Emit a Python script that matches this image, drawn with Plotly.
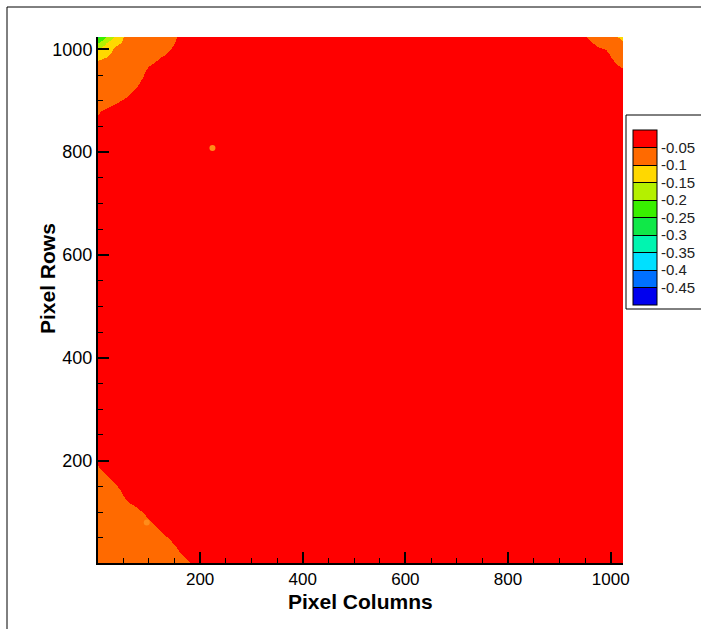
import plotly.graph_objects as go

# ---- data (relative intensity field, pixel grid) ----
col_nodes = [1, 16, 32, 50, 100, 160, 240, 512, 900, 960, 1000, 1012, 1024]
row_nodes = [1, 60, 120, 180, 260, 512, 780, 880, 960, 985, 1000, 1012, 1024]

field_rows = [
    [-0.085, -0.082, -0.078, -0.075, -0.064, -0.052, -0.044, -0.022, -0.020, -0.020, -0.020, -0.020, -0.021],  # 1
    [-0.073, -0.070, -0.067, -0.063, -0.053, -0.046, -0.039, -0.021, -0.020, -0.020, -0.020, -0.020, -0.020],  # 60
    [-0.061, -0.058, -0.055, -0.051, -0.046, -0.041, -0.034, -0.020, -0.020, -0.020, -0.020, -0.020, -0.020],  # 120
    [-0.051, -0.049, -0.047, -0.046, -0.041, -0.036, -0.029, -0.020, -0.020, -0.020, -0.020, -0.020, -0.020],  # 180
    [-0.043, -0.042, -0.041, -0.039, -0.035, -0.029, -0.022, -0.020, -0.020, -0.020, -0.020, -0.020, -0.020],  # 260
    [-0.025, -0.024, -0.023, -0.022, -0.021, -0.020, -0.020, -0.020, -0.020, -0.020, -0.020, -0.020, -0.021],  # 512
    [-0.035, -0.033, -0.030, -0.028, -0.025, -0.022, -0.020, -0.020, -0.020, -0.020, -0.020, -0.020, -0.020],  # 780
    [-0.051, -0.048, -0.045, -0.042, -0.035, -0.028, -0.023, -0.020, -0.025, -0.027, -0.029, -0.030, -0.030],  # 880
    [-0.085, -0.080, -0.075, -0.070, -0.047, -0.036, -0.028, -0.020, -0.028, -0.036, -0.043, -0.046, -0.048],  # 960
    [-0.105, -0.100, -0.090, -0.080, -0.056, -0.040, -0.030, -0.020, -0.030, -0.040, -0.050, -0.055, -0.062],  # 985
    [-0.150, -0.120, -0.095, -0.085, -0.068, -0.042, -0.032, -0.021, -0.032, -0.045, -0.052, -0.062, -0.074],  # 1000
    [-0.200, -0.150, -0.110, -0.095, -0.072, -0.045, -0.033, -0.022, -0.034, -0.048, -0.062, -0.078, -0.095],  # 1012
    [-0.260, -0.200, -0.145, -0.100, -0.075, -0.047, -0.035, -0.022, -0.035, -0.052, -0.075, -0.098, -0.112],  # 1024
]

# small dust spots seen in the image
spot_cols = [224, 96]
spot_rows = [808, 80]

# contour levels / legend
level_values = [-0.05, -0.1, -0.15, -0.2, -0.25, -0.3, -0.35, -0.4, -0.45]
level_labels = ["-0.05", "-0.1", "-0.15", "-0.2", "-0.25", "-0.3", "-0.35", "-0.4", "-0.45"]
band_colors = [  # from lowest (-0.5..-0.45) to highest (-0.05..0)
    "#0000EE", "#0070FF", "#00E0FF", "#00F5B0", "#10E848",
    "#38F000", "#B4F000", "#FFD800", "#FF6A00", "#FF0000",
]
z_min, z_max = -0.5, 0.0

x_ticks = [200, 400, 600, 800, 1000]
y_ticks = [200, 400, 600, 800, 1000]

# ---- build stepped colorscale ----
n = len(band_colors)
colorscale = []
for i, c in enumerate(band_colors):
    colorscale.append([i / n, c])
    colorscale.append([(i + 1) / n, c])

W, H = 701, 629
ML, MR, MT, MB = 98, 78, 37, 66
PW, PH = W - ML - MR, H - MT - MB
FONT = "Liberation Sans, Arial, sans-serif"


def px_x(p):
    return (p - ML) / PW


def px_y(p):
    return (H - MB - p) / PH


fig = go.Figure()
fig.add_trace(go.Heatmap(
    x=col_nodes, y=row_nodes, z=field_rows,
    zmin=z_min, zmax=z_max, zsmooth="best",
    colorscale=colorscale,
    hoverinfo="skip",
    colorbar=dict(
        x=px_x(626), xanchor="left", xpad=7,
        y=px_y(217.5), yanchor="middle", ypad=0,
        len=175, lenmode="pixels", thickness=24, thicknessmode="pixels",
        tickvals=level_values, ticktext=level_labels,
        ticks="inside", ticklen=24, tickwidth=1, tickcolor="black",
        outlinewidth=1, outlinecolor="black",
        borderwidth=0, bgcolor="rgba(0,0,0,0)",
        tickfont=dict(family=FONT, size=15, color="#222222"),
    ),
))
fig.add_trace(go.Scatter(
    x=spot_cols, y=spot_rows, mode="markers",
    marker=dict(size=6, color="#FF8C1A", line=dict(width=0)),
    showlegend=False, hoverinfo="skip",
))

axis_common = dict(
    showline=True, linecolor="black", linewidth=2, mirror=False,
    ticks="inside", ticklen=11, tickwidth=2, tickcolor="black",
    minor=dict(ticks="inside", ticklen=5, tickwidth=1, tickcolor="black", dtick=50, tick0=0, showgrid=False),
    showgrid=False, zeroline=False,
)

fig.update_layout(
    width=W, height=H,
    margin=dict(l=ML, r=MR, t=MT, b=MB, autoexpand=False),
    paper_bgcolor="white", plot_bgcolor="white",
    showlegend=False,
    xaxis=dict(range=[1, 1024], tickvals=x_ticks,
               tickfont=dict(family=FONT, size=17, color="black"), **axis_common),
    yaxis=dict(range=[1, 1024], tickvals=y_ticks,
               tickfont=dict(family=FONT, size=18, color="black"), **axis_common),
    annotations=[
        dict(text="<b>Pixel Columns</b>", xref="paper", yref="paper",
             x=0.5, y=px_y(601), xanchor="center", yanchor="middle", showarrow=False,
             font=dict(family=FONT, size=21, color="black")),
        dict(text="<b>Pixel Rows</b>", xref="paper", yref="paper", textangle=-90,
             x=px_x(47), y=px_y(279), xanchor="center", yanchor="middle", showarrow=False,
             font=dict(family=FONT, size=21, color="black")),
    ],
    shapes=[
        dict(type="rect", xref="paper", yref="paper",
             x0=px_x(626), x1=px_x(740), y0=px_y(309), y1=px_y(115),
             line=dict(color="black", width=1), fillcolor="rgba(0,0,0,0)"),
        dict(type="rect", xref="paper", yref="paper",
             x0=px_x(7), x1=px_x(800), y0=px_y(700), y1=px_y(7),
             line=dict(color="black", width=1), fillcolor="rgba(0,0,0,0)"),
    ],
)

fig.write_html("out.html")
